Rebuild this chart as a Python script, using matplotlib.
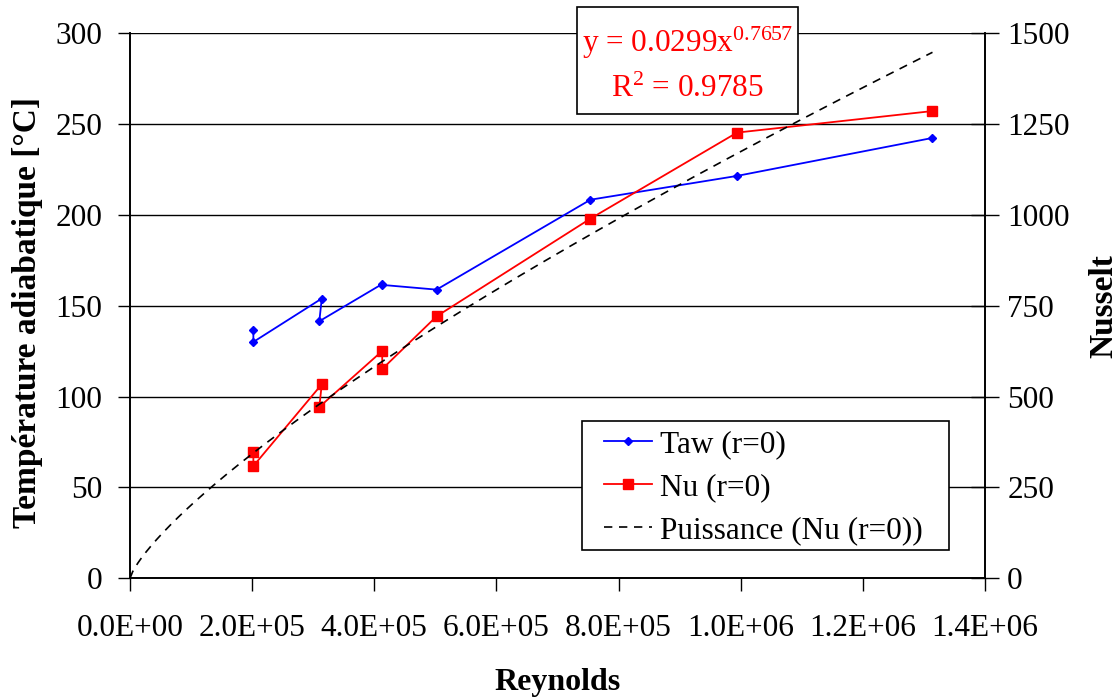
import numpy as np
import matplotlib
matplotlib.use("Agg")
import matplotlib.pyplot as plt
from matplotlib.patches import Rectangle
from matplotlib.ticker import FuncFormatter, MultipleLocator

plt.rcParams['font.family'] = ['Liberation Serif', 'DejaVu Serif']
plt.rcParams['mathtext.fontset'] = 'custom'
plt.rcParams['mathtext.rm'] = 'Liberation Serif'
plt.rcParams['mathtext.default'] = 'regular'

# mesures au centre du disque (r=0)
reynolds = [2.02e5, 2.02e5, 3.14e5, 3.10e5, 4.13e5, 4.13e5, 5.02e5, 7.54e5, 9.94e5, 1.314e6]
taw = [136.9, 130.1, 154.0, 141.5, 162.0, 161.5, 158.9, 208.4, 221.5, 242.4]
nusselt = [347.6, 309.0, 534.0, 471.5, 625.7, 576.0, 721.0, 990.0, 1226.7, 1286.0]

# courbe de tendance puissance Nu = a * Re^b
coef_a = 0.0299
coef_b = 0.7657
r2 = 0.9785

fs = 22.5
W, H = 1118, 697
fig = plt.figure(figsize=(W / 100, H / 100), dpi=100)
ax = fig.add_axes([130 / W, 1 - 578.3 / H, 855 / W, 545 / H])
ax2 = ax.twinx()

ax.plot(reynolds, taw, color='#0000ff', lw=1.3, marker='D', ms=4, mec='#0000ff', label='Taw (r=0)')
ax2.plot(reynolds, nusselt, color='#ff0000', lw=1.3, marker='s', ms=7.5, mec='#ff0000', label='Nu (r=0)')
re_fit = np.linspace(0, max(reynolds), 300)
ax2.plot(re_fit, coef_a * re_fit ** coef_b, color='black', lw=1.2, ls=(0, (5, 4)),
         label='Puissance (Nu (r=0))')

ax.set_xlim(0, 1.4e6)
ax.set_ylim(0, 300)
ax2.set_ylim(0, 1500)
ax.xaxis.set_major_locator(MultipleLocator(2e5))
ax.yaxis.set_major_locator(MultipleLocator(50))
ax2.yaxis.set_major_locator(MultipleLocator(250))
ax.xaxis.set_major_formatter(FuncFormatter(lambda v, pos: '%.1E' % v))
ax.yaxis.grid(True, color='black', lw=1)
ax.set_axisbelow(True)

for a in (ax, ax2):
    a.spines['top'].set_visible(False)
    for sp in a.spines.values():
        sp.set_linewidth(1.2)
ax.tick_params(axis='x', direction='out', length=9, width=1, pad=17, labelsize=fs)
ax.tick_params(axis='y', direction='out', length=9, width=1, pad=11, labelsize=fs)
ax2.tick_params(axis='y', direction='inout', length=20, width=1, pad=6, labelsize=fs)

ax.set_xlabel('Reynolds', fontsize=23, fontweight='bold')
ax.xaxis.set_label_coords(0.5, -0.165)
ax.set_ylabel('Température adiabatique [°C]', fontsize=24, fontweight='bold')
ax.yaxis.set_label_coords(-0.102, 0.488)
ax2.set_ylabel('Nusselt', fontsize=24, fontweight='bold')
ax2.yaxis.set_label_coords(1.121, 0.5)

# légende : cadre tracé à part, contenu sans cadre
h1, l1 = ax.get_legend_handles_labels()
h2, l2 = ax2.get_legend_handles_labels()
fig.patches.append(Rectangle((582.3 / W, 1 - 550 / H), 366.7 / W, 129.3 / H,
                             transform=fig.transFigure, facecolor='white',
                             edgecolor='black', lw=1.2, zorder=5))
leg = fig.legend(h1 + h2, l1 + l2, loc='upper left',
                 bbox_to_anchor=(604 / W, 1 - 430 / H), borderaxespad=0,
                 fontsize=fs, frameon=False, handlelength=1.55,
                 handletextpad=0.25, labelspacing=0.45, borderpad=0)
leg.set_zorder(6)

# équation de la courbe de tendance
fig.patches.append(Rectangle((577.3 / W, 1 - 114 / H), 221 / W, 106.7 / H,
                             transform=fig.transFigure, facecolor='white',
                             edgecolor='black', lw=1.2, zorder=5))
fig.text(687 / W, 1 - 52 / H, 'y = %.4fx$^{%.4f}$' % (coef_a, coef_b), color='#ff0000',
         fontsize=fs, ha='center', va='baseline', zorder=6)
fig.text(687 / W, 1 - 97 / H, 'R$^{2}$ = %.4f' % r2, color='#ff0000',
         fontsize=fs, ha='center', va='baseline', zorder=6)

fig.savefig('out.png', dpi=100)
